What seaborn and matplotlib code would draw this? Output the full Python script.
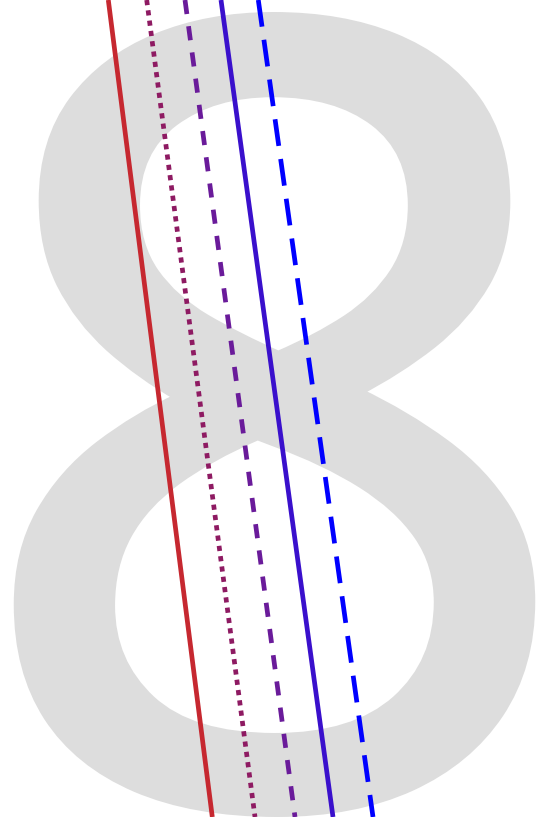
import numpy as np
import pandas as pd
import matplotlib
matplotlib.use("Agg")
import matplotlib.pyplot as plt
import matplotlib.patheffects as pe
import seaborn as sns
from matplotlib.textpath import TextPath
from matplotlib.font_manager import FontProperties

# ---- data ----
series = ["Series 1", "Series 2", "Series 3", "Series 4", "Series 5"]
start_values = [108.3, 146.7, 185.0, 221.0, 258.3]
end_values = [212.3, 255.0, 295.0, 333.0, 373.0]
positions = [0.0, 1.0]
colors = ["#C62830", "#8E1A62", "#6A1B9A", "#3A10CC", "#0000FF"]
dash_styles = ["", (1.1, 1.1), (3.0, 2.6), "", (5.7, 2.8)]
watermark = "8"

W, H, DPI = 537, 817, 100

rows = []
for s, a, b in zip(series, start_values, end_values):
    rows.append({"series": s, "value": a, "position": positions[0]})
    rows.append({"series": s, "value": b, "position": positions[1]})
df = pd.DataFrame(rows)

sns.set_theme(style="white")
fig = plt.figure(figsize=(W / DPI, H / DPI), dpi=DPI)
ax = fig.add_axes([0, 0, 1, 1])
ax.set_xlim(0, W)
ax.set_ylim(1, 0)
ax.axis("off")

# watermark glyph, sized to target box (slightly emboldened with a stroke)
fam = "Noto Sans"
fp = FontProperties(family=fam)
tp = TextPath((0, 0), watermark, size=1, prop=fp)
bb = tp.get_extents()
stroke_px = 8.0
top_px, bottom_px, center_px = 12.0 + stroke_px / 2, 817.0 - stroke_px / 2, 274.5
size_px = (bottom_px - top_px) / bb.height
fs_pt = size_px * 72.0 / DPI
x_text = center_px - (bb.x0 + bb.x1) / 2 * size_px
base_px = top_px + bb.y1 * size_px
ax.text(x_text, base_px / H, watermark, fontsize=fs_pt, family=fam,
        color="#DDDDDD", ha="left", va="baseline", zorder=0,
        path_effects=[pe.withStroke(linewidth=stroke_px * 72.0 / DPI,
                                    foreground="#DDDDDD")])

sns.lineplot(data=df, x="value", y="position", hue="series", style="series",
             palette=dict(zip(series, colors)), dashes=dict(zip(series, dash_styles)),
             estimator=None, sort=False, legend=False, linewidth=3.4, ax=ax, zorder=2)
for ln in ax.get_lines():
    ln.set_dash_capstyle("butt")
    ln.set_solid_capstyle("butt")

ax.set_xlim(0, W)
ax.set_ylim(1, 0)
ax.axis("off")
fig.savefig("out.png", dpi=DPI)
